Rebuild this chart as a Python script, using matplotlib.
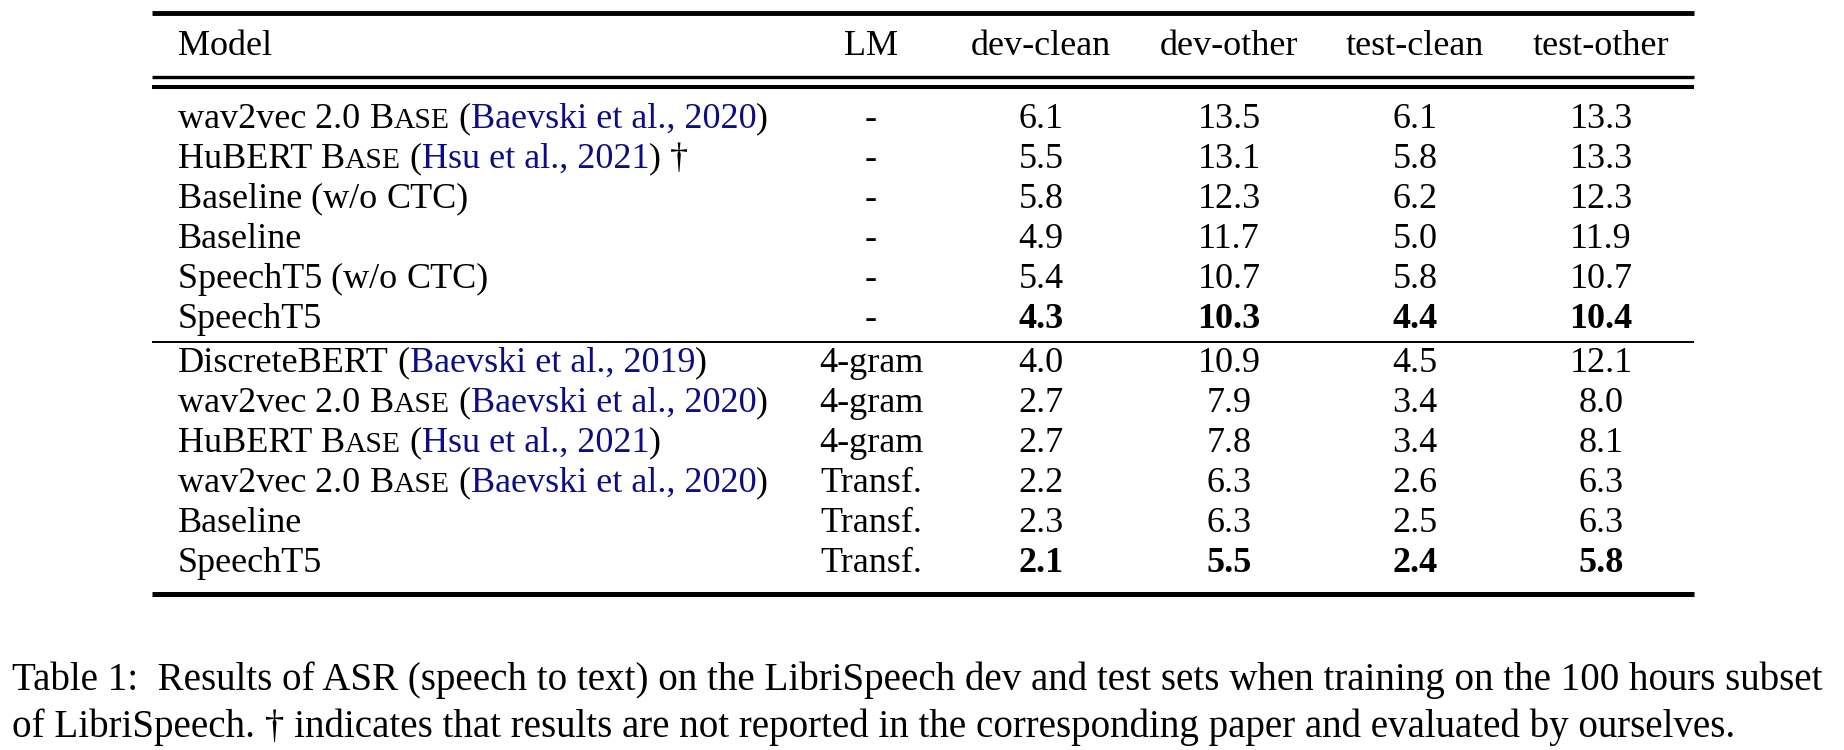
import matplotlib.pyplot as plt
import numpy as np

plt.rcParams['font.family'] = ['Liberation Serif', 'DejaVu Serif']

# table content
columns = ["Model", "LM", "dev-clean", "dev-other", "test-clean", "test-other"]
model_names = ["wav2vec 2.0 BASE", "HuBERT BASE", "Baseline (w/o CTC)", "Baseline",
               "SpeechT5 (w/o CTC)", "SpeechT5",
               "DiscreteBERT", "wav2vec 2.0 BASE", "HuBERT BASE", "wav2vec 2.0 BASE",
               "Baseline", "SpeechT5"]
citations = ["Baevski et al., 2020", "Hsu et al., 2021", None, None, None, None,
             "Baevski et al., 2019", "Baevski et al., 2020", "Hsu et al., 2021",
             "Baevski et al., 2020", None, None]
suffix = ["", " \u2020", "", "", "", "", "", "", "", "", "", ""]
lm = ["-", "-", "-", "-", "-", "-", "4-gram", "4-gram", "4-gram", "Transf.", "Transf.", "Transf."]
dev_clean = [6.1, 5.5, 5.8, 4.9, 5.4, 4.3, 4.0, 2.7, 2.7, 2.2, 2.3, 2.1]
dev_other = [13.5, 13.1, 12.3, 11.7, 10.7, 10.3, 10.9, 7.9, 7.8, 6.3, 6.3, 5.5]
test_clean = [6.1, 5.8, 6.2, 5.0, 5.8, 4.4, 4.5, 3.4, 3.4, 2.6, 2.5, 2.4]
test_other = [13.3, 13.3, 12.3, 11.9, 10.7, 10.4, 12.1, 8.0, 8.1, 6.3, 6.3, 5.8]
groups = [0] * 6 + [1] * 6

caption = ["Table 1:  Results of ASR (speech to text) on the LibriSpeech dev and test sets when training on the 100 hours subset",
           "of LibriSpeech. \u2020 indicates that results are not reported in the corresponding paper and evaluated by ourselves."]

W, H = 1844, 750
fig = plt.figure(figsize=(W / 100, H / 100), dpi=100)
ax = fig.add_axes([0, 0, 1, 1])
ax.set_xlim(0, W)
ax.set_ylim(H, 0)
ax.axis('off')
fig.canvas.draw()
renderer = fig.canvas.get_renderer()

FS = 26
CAP_FS = 28.1
cite_color = '#0c0c85'


def text_width(t):
    return t.get_window_extent(renderer).width


def draw_runs(x, y, runs):
    # runs: list of (text, size, color, weight)
    for s, size, color, weight in runs:
        t = ax.text(x, y, s, fontsize=size, color=color, fontweight=weight,
                    ha='left', va='baseline')
        x += text_width(t)
    return x


def model_runs(name, cite, suf):
    runs = []
    words = name.split(" ")
    for i, w in enumerate(words):
        sep = " " if i < len(words) - 1 else ""
        if w == "BASE":
            # small caps
            runs.append((w[0], FS, 'black', 'normal'))
            runs.append((w[1:] + sep, FS * 0.82, 'black', 'normal'))
        else:
            runs.append((w + sep, FS, 'black', 'normal'))
    if cite:
        runs.append((" (", FS, 'black', 'normal'))
        runs.append((cite, FS, cite_color, 'normal'))
        runs.append((")", FS, 'black', 'normal'))
    if suf:
        runs.append((suf, FS, 'black', 'normal'))
    return runs


# layout (pixels)
x_left, x_right = 152, 1694
x_model = 178
col_x = [None, 871, 1041, 1229, 1415, 1601]
header_y = 55
row_y = [127.7 + 40 * k for k in range(6)] + [371.5 + 40 * k for k in range(6)]

ax.text(x_model, header_y, columns[0], fontsize=FS, ha='left', va='baseline')
for c in range(1, len(columns)):
    ax.text(col_x[c], header_y, columns[c], fontsize=FS, ha='center', va='baseline')

values = np.array([dev_clean, dev_other, test_clean, test_other]).T
grp = np.array(groups)
for i in range(len(model_names)):
    y = row_y[i]
    draw_runs(x_model, y, model_runs(model_names[i], citations[i], suffix[i]))
    ax.text(col_x[1], y, lm[i], fontsize=FS, ha='center', va='baseline')
    for j in range(values.shape[1]):
        v = values[i, j]
        best = v == values[grp == grp[i], j].min()
        ax.text(col_x[j + 2], y, f"{v:.1f}", fontsize=FS, ha='center', va='baseline',
                fontweight='bold' if best else 'normal')

# rules
for yy, lw in [(13.3, 3.5), (76.7, 2.4), (87, 2.9), (342, 1.4), (593.5, 3.6)]:
    ax.plot([x_left, x_right], [yy, yy], color='black', lw=lw, solid_capstyle='butt')

# caption
ax.text(12, 690, caption[0], fontsize=CAP_FS, ha='left', va='baseline')
ax.text(12, 736.5, caption[1], fontsize=CAP_FS, ha='left', va='baseline')

fig.savefig('out.png', dpi=100)
